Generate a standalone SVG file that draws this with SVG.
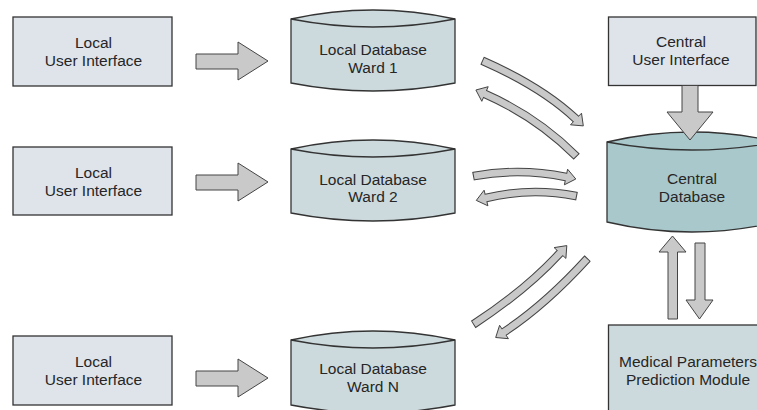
<svg xmlns="http://www.w3.org/2000/svg" width="757" height="410" viewBox="0 0 757 410">
<style>
text{font-family:"Liberation Sans",Arial,sans-serif;font-size:15.5px;fill:#262626;text-anchor:middle}
.ui{fill:#dfe3ea;stroke:#333;stroke-width:1.3}
.ldb{fill:#cddadd;stroke:#333;stroke-width:1.3}
.cdb{fill:#a9c8cb;stroke:#333;stroke-width:1.3}
.arc{fill:none;stroke:#333;stroke-width:1.3}
.ba{fill:#c9c9c9;stroke:#444;stroke-width:1}
.co{fill:none;stroke:#444;stroke-width:8.6}
.ci{fill:none;stroke:#c9c9c9;stroke-width:6.6}
.hd{fill:#c9c9c9;stroke:#444;stroke-width:1;stroke-linejoin:miter}
</style>
<rect width="757" height="410" fill="#fff"/>
<g id="ui1"><rect class="ui" x="13" y="17" width="159" height="69"/><text x="93.5" y="48">Local</text><text x="93.5" y="66">User Interface</text></g>
<g id="ui2"><rect class="ui" x="13" y="147" width="159" height="68"/><text x="93.5" y="178">Local</text><text x="93.5" y="196">User Interface</text></g>
<g id="ui3"><rect class="ui" x="13" y="336" width="159" height="69"/><text x="93.5" y="367">Local</text><text x="93.5" y="385">User Interface</text></g>
<g id="db1"><path class="ldb" d="M291,19 Q373,1 455,19 L455,83 Q373,99 291,83 Z"/><path class="arc" d="M291,19 Q373,35 455,19"/><text x="373" y="55">Local Database</text><text x="373" y="73">Ward 1</text></g>
<g id="db2"><path class="ldb" d="M291,149 Q373,131 455,149 L455,213 Q373,229 291,213 Z"/><path class="arc" d="M291,149 Q373,165 455,149"/><text x="373" y="185">Local Database</text><text x="373" y="202">Ward 2</text></g>
<g id="dbn"><path class="ldb" d="M291,340 Q373,322 455,340 L455,405 Q373,421 291,405 Z"/><path class="arc" d="M291,340 Q373,356 455,340"/><text x="373" y="374">Local Database</text><text x="373" y="392">Ward N</text></g>
<g id="cui"><rect class="ui" x="608.5" y="17" width="147.5" height="68.5"/><text x="681" y="47">Central</text><text x="681" y="65">User Interface</text></g>
<g id="cdb"><path class="cdb" d="M607,142 Q692,122 777,142 L777,222 Q692,242 607,222 Z"/><path class="arc" d="M607,142 Q692,158 777,142"/><text x="692" y="184">Central</text><text x="692" y="202">Database</text></g>
<g id="mpm"><rect class="ldb" x="608.5" y="325" width="160" height="100"/><text x="688" y="367">Medical Parameters</text><text x="688" y="385">Prediction Module</text></g>
<g id="connectors">
<polygon class="ba" points="196,54 238,54 238,42 268,61 238,80 238,69 196,69"/>
<polygon class="ba" points="196,175 238,175 238,163 268,182 238,201 238,190 196,190"/>
<polygon class="ba" points="196,371 238,371 238,359 268,378 238,397 238,386 196,386"/>
<polygon class="ba" points="682,85.5 698,85.5 698,112 713,112 690,140 667,112 682,112"/>
<polygon class="ba" points="672.5,236 686,252 677.5,252 677.5,319 668,319 668,252 659,252"/>
<polygon class="ba" points="695,243 705,243 705,300 713,300 699.5,319 686,300 695,300"/>
<g id="arrA"><path class="co" d="M482.1,60.6 L483,61 Q542,87 576,119"/><polygon class="hd" points="570.5,124.8 583.3,125.9 581.5,113.2"/><path class="ci" d="M483,61 Q542,87 576,119 L577.1,119.7"/></g>
<g id="arrB"><path class="co" d="M576.7,156.7 L576,156 Q537,117 485,94"/><polygon class="hd" points="488.2,86.7 475.9,90 481.8,101.3"/><path class="ci" d="M576,156 Q537,117 485,94 L483.9,93.5"/></g>
<g id="arrC"><path class="co" d="M473,176.2 L474,176 Q520,167.5 566,177"/><polygon class="hd" points="564.4,184.8 575.8,179 567.6,169.2"/><path class="ci" d="M474,176 Q520,167.5 566,177 L567.2,177.2"/></g>
<g id="arrD"><path class="co" d="M577,196.2 L576,196 Q531,187 486,198"/><polygon class="hd" points="484.1,190.2 476.3,200.4 487.9,205.8"/><path class="ci" d="M576,196 Q531,187 486,198 L484.8,198.3"/></g>
<g id="arrE"><path class="co" d="M473.2,324.5 L474,324 Q526,290 560,253"/><polygon class="hd" points="565.9,258.4 566.8,245.6 554.1,247.6"/><path class="ci" d="M474,324 Q526,290 560,253 L560.8,252.1"/></g>
<g id="arrF"><path class="co" d="M587.7,258.3 L587,259 Q545,305 504,332"/><polygon class="hd" points="508.4,338.7 495.7,337.5 499.6,325.3"/><path class="ci" d="M587,259 Q545,305 504,332 L503,332.7"/></g>
</g>
</svg>
